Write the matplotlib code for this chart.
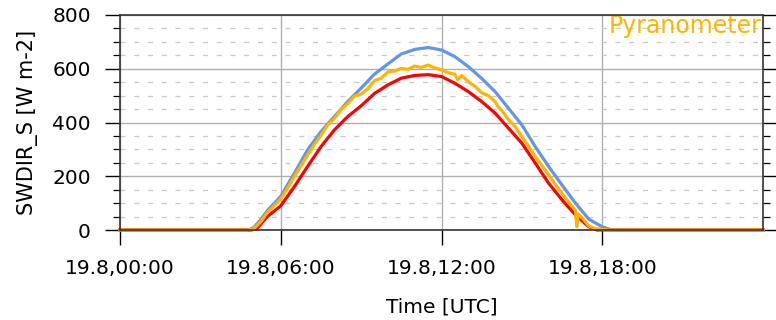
import numpy as np
import matplotlib
matplotlib.use('Agg')
import matplotlib.pyplot as plt
from matplotlib.ticker import MultipleLocator

plt.rcParams['font.family'] = ['DejaVu Sans']

# ===== data (hours of 19.8, W m-2) =====
model1_t = [0, 4.5, 4.8, 5.0, 5.25, 5.5, 6.0, 6.5, 7.0, 7.5, 8.0, 8.5, 9.0, 9.5, 10.0,
            10.5, 11.0, 11.5, 12.0, 12.5, 13.0, 13.5, 14.0, 14.5, 15.0, 15.5,
            16.0, 16.5, 17.0, 17.5, 18.0, 18.35, 24]
model1_v = [0, 0, 0, 10, 38, 72, 125, 210, 298, 366, 422, 478, 528, 580, 618,
            655, 672, 679, 670, 645, 608, 564, 515, 453, 391, 310,
            236, 167, 100, 40, 12, 0, 0]

model2_t = [0, 4.9, 5.1, 5.5, 6.0, 6.5, 7.0, 7.5, 8.0, 8.5, 9.0, 9.5, 10.0,
            10.5, 11.0, 11.5, 12.0, 12.5, 13.0, 13.5, 14.0, 14.5, 15.0, 15.5,
            16.0, 16.5, 17.0, 17.5, 17.8, 24]
model2_v = [0, 0, 4, 50, 90, 160, 236, 310, 372, 422, 462, 508, 540,
            565, 575, 578, 571, 546, 515, 478, 435, 379, 323, 249,
            174, 112, 56, 12, 0, 0]

pyr_t = [0, 4.75, 5.0, 5.25, 5.5, 5.75, 6.0, 6.25, 6.5, 6.75, 7.0, 7.25, 7.5,
         7.75, 8.0, 8.25, 8.5, 8.75, 9.0, 9.25, 9.5, 9.75, 10.0, 10.25, 10.5,
         10.75, 11.0, 11.25, 11.5, 11.75, 12.0, 12.25, 12.5, 12.6, 12.75, 13.0,
         13.25, 13.5, 13.75, 14.0, 14.1, 14.25, 14.5, 14.75, 15.0, 15.25, 15.5,
         15.75, 16.0, 16.25, 16.5, 16.75, 17.0, 17.05, 17.1, 17.25, 17.5, 17.75,
         18.0, 18.25, 24]
pyr_v = [0, 0, 5, 30, 65, 90, 115, 155, 198, 238, 279, 318, 352,
         390, 415, 448, 470, 498, 506, 525, 556, 565, 588, 592, 601,
         598, 610, 605, 614, 603, 596, 585, 580, 560, 575, 552,
         535, 511, 500, 478, 460, 445, 411, 385, 347, 312, 273,
         240, 205, 170, 136, 102, 74, 12, 60, 45, 15, 5,
         2, 0, 0]

xtick_pos = [0, 6, 12, 18]
xtick_lab = ['19.8,00:00', '19.8,06:00', '19.8,12:00', '19.8,18:00']

# ===== plot =====
fig = plt.figure(figsize=(7.76, 3.2), dpi=100)
ax = fig.add_axes([120 / 776, 1 - 230 / 320, 643 / 776, 215 / 320])

ax.plot(model1_t, model1_v, color='#6495ED', lw=2.3, clip_on=False, zorder=3)
ax.plot(model2_t, model2_v, color='#FF0000', lw=2.3, clip_on=False, zorder=3)
ax.plot(pyr_t, pyr_v, color='#FFB400', lw=2.3, clip_on=False, zorder=4)

ax.set_xlim(0, 24)
ax.set_ylim(0, 800)
ax.set_xticks(xtick_pos)
ax.set_xticklabels(xtick_lab)
ax.yaxis.set_major_locator(MultipleLocator(200))
ax.yaxis.set_minor_locator(MultipleLocator(50))

ax.grid(True, which='major', color='#b0b0b0', lw=1.0, zorder=1)
ax.grid(True, which='minor', axis='y', color='#c8c8c8', lw=0.9,
        linestyle=(0, (4, 7)), zorder=1)

ax.tick_params(axis='both', which='major', direction='out', length=11,
               width=1.0, labelsize=14.5, colors='black')
ax.tick_params(axis='y', which='major', pad=10)
ax.tick_params(axis='x', which='major', pad=10)
ax.tick_params(axis='y', which='minor', direction='out', length=5, width=0.9)
ax.tick_params(axis='y', which='both', right=True)
for s in ax.spines.values():
    s.set_linewidth(1.2)
    s.set_color('#333333')
    s.set_zorder(5)

ax.set_xlabel('Time [UTC]', fontsize=14.5)
ax.set_ylabel('SWDIR_S [W m-2]', fontsize=15)
ax.xaxis.set_label_coords(0.5, -0.315)
ax.yaxis.set_label_coords(-0.128, 0.5)

ax.text(0.997, 0.916, 'Pyranometer', transform=ax.transAxes, ha='right',
        va='baseline', color='#FFB400', fontsize=17)

plt.savefig('out.png', dpi=100)
